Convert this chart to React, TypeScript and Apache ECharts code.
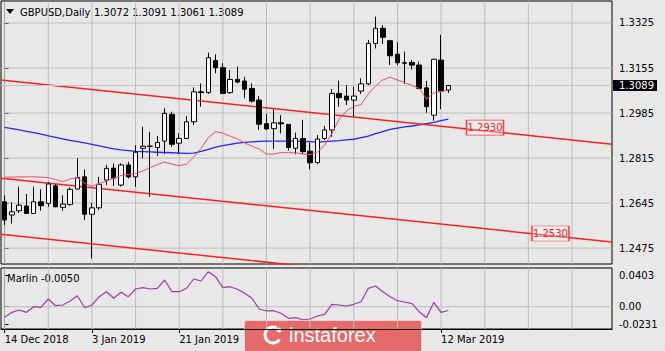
import React, { useEffect, useRef } from "react";
import * as echarts from "echarts";

const dates = [
  "14 Dec 2018", "17 Dec 2018", "18 Dec 2018", "19 Dec 2018", "20 Dec 2018", "21 Dec 2018", "24 Dec 2018",
  "26 Dec 2018", "27 Dec 2018", "28 Dec 2018", "31 Dec 2018", "2 Jan 2019", "3 Jan 2019", "4 Jan 2019",
  "7 Jan 2019", "8 Jan 2019", "9 Jan 2019", "10 Jan 2019", "11 Jan 2019", "14 Jan 2019", "15 Jan 2019",
  "16 Jan 2019", "17 Jan 2019", "18 Jan 2019", "21 Jan 2019", "22 Jan 2019", "23 Jan 2019", "24 Jan 2019",
  "25 Jan 2019", "28 Jan 2019", "29 Jan 2019", "30 Jan 2019", "31 Jan 2019", "1 Feb 2019", "4 Feb 2019",
  "5 Feb 2019", "6 Feb 2019", "7 Feb 2019", "8 Feb 2019", "11 Feb 2019", "12 Feb 2019", "13 Feb 2019",
  "14 Feb 2019", "15 Feb 2019", "18 Feb 2019", "19 Feb 2019", "20 Feb 2019", "21 Feb 2019", "22 Feb 2019",
  "25 Feb 2019", "26 Feb 2019", "27 Feb 2019", "28 Feb 2019", "1 Mar 2019", "4 Mar 2019", "5 Mar 2019",
  "6 Mar 2019", "7 Mar 2019", "8 Mar 2019", "11 Mar 2019", "12 Mar 2019", "13 Mar 2019",
];
const emptySlots = 22;

const open = [
  1.2650, 1.2600, 1.2616, 1.2634, 1.2606, 1.2650, 1.2644, 1.2710, 1.2629, 1.2640,
  1.2698, 1.2744, 1.2603, 1.2627, 1.2732, 1.2777, 1.2713, 1.2789, 1.2744, 1.2852,
  1.2860, 1.2855, 1.2879, 1.2980, 1.2871, 1.2889, 1.2952, 1.3065, 1.3062, 1.3183,
  1.3156, 1.3062, 1.3112, 1.3106, 1.3078, 1.3034, 1.2945, 1.2926, 1.2948, 1.2942,
  1.2852, 1.2889, 1.2841, 1.2798, 1.2889, 1.2921, 1.3059, 1.3049, 1.3034, 1.3068,
  1.3095, 1.3248, 1.3305, 1.3258, 1.3207, 1.3175, 1.3176, 1.3166, 1.3080, 1.2977,
  1.3185, 1.3072,
];
const close = [
  1.2581, 1.2612, 1.2637, 1.2606, 1.2650, 1.2635, 1.2717, 1.2631, 1.2641, 1.2697,
  1.2741, 1.2603, 1.2627, 1.2716, 1.2776, 1.2739, 1.2789, 1.2744, 1.2837, 1.2860,
  1.2859, 1.2874, 1.2984, 1.2867, 1.2889, 1.2952, 1.3065, 1.3062, 1.3194, 1.3156,
  1.3059, 1.3112, 1.3102, 1.3075, 1.3030, 1.2943, 1.2925, 1.2948, 1.2944, 1.2855,
  1.2889, 1.2839, 1.2797, 1.2887, 1.2921, 1.3059, 1.3043, 1.3034, 1.3049, 1.3095,
  1.3248, 1.3305, 1.3271, 1.3201, 1.3175, 1.3173, 1.3166, 1.3078, 1.3009, 1.3188,
  1.3068, 1.3089,
];
const low = [
  1.2562, 1.2568, 1.2608, 1.2605, 1.2604, 1.2616, 1.2631, 1.2629, 1.2616, 1.2635,
  1.2697, 1.2581, 1.2436, 1.2618, 1.2713, 1.2710, 1.2707, 1.2738, 1.2707, 1.2814,
  1.2669, 1.2823, 1.2830, 1.2858, 1.2833, 1.2887, 1.2940, 1.3009, 1.3057, 1.3135,
  1.3057, 1.3057, 1.3097, 1.3041, 1.3024, 1.2921, 1.2921, 1.2849, 1.2908, 1.2843,
  1.2830, 1.2830, 1.2772, 1.2792, 1.2883, 1.2895, 1.3009, 1.3015, 1.2971, 1.3057,
  1.3091, 1.3229, 1.3246, 1.3166, 1.3166, 1.3095, 1.3150, 1.3075, 1.2986, 1.2956,
  1.3000, 1.3061,
];
const high = [
  1.2675, 1.2648, 1.2707, 1.2679, 1.2707, 1.2697, 1.2725, 1.2717, 1.2675, 1.2704,
  1.2814, 1.2772, 1.2646, 1.2744, 1.2789, 1.2795, 1.2795, 1.2801, 1.2864, 1.2933,
  1.2914, 1.2898, 1.3003, 1.2990, 1.2908, 1.2974, 1.3082, 1.3097, 1.3213, 1.3207,
  1.3173, 1.3147, 1.3160, 1.3122, 1.3097, 1.3049, 1.2981, 1.2999, 1.2977, 1.2943,
  1.2911, 1.2959, 1.2874, 1.2902, 1.2936, 1.3075, 1.3107, 1.3091, 1.3084, 1.3116,
  1.3261, 1.3349, 1.3317, 1.3261, 1.3252, 1.3217, 1.3185, 1.3179, 1.3107, 1.3190,
  1.3280, 1.3091,
];

const maFast = [
  1.2743, 1.2743, 1.2744, 1.2744, 1.2744, 1.2743, 1.2741, 1.2734, 1.2726, 1.2736,
  1.2741, 1.2719, 1.2709, 1.2719, 1.2728, 1.2739, 1.2749, 1.2753, 1.2756, 1.2766,
  1.2779, 1.2790, 1.2800, 1.2792, 1.2786, 1.2792, 1.2819, 1.2851, 1.2892, 1.2915,
  1.2909, 1.2898, 1.2887, 1.2872, 1.2860, 1.2849, 1.2830, 1.2830, 1.2836, 1.2835,
  1.2835, 1.2830, 1.2828, 1.2838, 1.2864, 1.2908, 1.2962, 1.2993, 1.3010, 1.3017,
  1.3057, 1.3087, 1.3110, 1.3120, 1.3110, 1.3100, 1.3089, 1.3078, 1.3038, 1.3061,
  1.3066, 1.3072,
];
const maSlow = [
  1.2931, 1.2926, 1.2921, 1.2916, 1.2911, 1.2905, 1.2899, 1.2893, 1.2887, 1.2882,
  1.2877, 1.2872, 1.2867, 1.2861, 1.2855, 1.2850, 1.2846, 1.2843, 1.2840, 1.2839,
  1.2838, 1.2837, 1.2836, 1.2835, 1.2834, 1.2833, 1.2834, 1.2840, 1.2848, 1.2856,
  1.2862, 1.2867, 1.2871, 1.2874, 1.2876, 1.2878, 1.2879, 1.2879, 1.2879, 1.2879,
  1.2879, 1.2878, 1.2877, 1.2875, 1.2877, 1.2879, 1.2881, 1.2884, 1.2886, 1.2892,
  1.2898, 1.2907, 1.2915, 1.2923, 1.2928, 1.2933, 1.2936, 1.2940, 1.2945, 1.2950,
  1.2956, 1.2962,
];
const marlin = [
  -0.0138, -0.0073, -0.0043, -0.0073, 0.0000, -0.0009, 0.0100, 0.0013, 0.0022, 0.0074,
  0.0143, -0.0013, 0.0022, 0.0130, 0.0195, 0.0109, 0.0187, 0.0130, 0.0230, 0.0247,
  0.0230, 0.0239, 0.0347, 0.0195, 0.0195, 0.0239, 0.0360, 0.0334, 0.0455, 0.0390,
  0.0247, 0.0260, 0.0226, 0.0174, 0.0109, -0.0030, -0.0056, -0.0052, -0.0086, -0.0151,
  -0.0143, -0.0170, -0.0160, -0.0121, -0.0099, 0.0030, 0.0022, 0.0009, 0.0031, 0.0065,
  0.0239, 0.0269, 0.0195, 0.0130, 0.0078, 0.0061, 0.0039, -0.0065, -0.0143, 0.0057,
  -0.0073, -0.0050,
];

// channel lines: price at left edge and right edge of the plot
const channelStart = [1.3110, 1.2739, 1.2527];
const channelEnd = [1.2867, 1.2498, 1.2285];
const channelLabels = ["1.2930", "1.2530"];

const priceTicks = [1.2475, 1.2645, 1.2815, 1.2985, 1.3155, 1.3325];
const marlinTicks = [-0.0231, 0, 0.0403];
// labels that are visible (the others are hidden under the logo in the reference)
const xTickLabels = ["14 Dec 2018", "3 Jan 2019", "21 Jan 2019", "12 Mar 2019"];
const headerValues = ["1.3072", "1.3091", "1.3061", "1.3089"];
const lastPrice = 1.3089;
const marlinLast = "-0.0050";
const gridStep = 6; // vertical grid line every 6 bars

const PRICE_MIN = 1.2415;
const PRICE_MAX = 1.3408;
const MARLIN_MIN = -0.029;
const MARLIN_MAX = 0.0503;

const FONT = "DejaVu Sans";

export default function App() {
  const ref = useRef<HTMLDivElement>(null);
  useEffect(() => {
    if (!ref.current) return;
    const chart = echarts.init(ref.current, undefined, { renderer: "svg" });
    const cats = dates.concat(Array.from({ length: emptySlots }, (_, i) => "slot" + i));
    const N = cats.length;
    const labelInterval = (_i: number, name: string) => xTickLabels.indexOf(name) >= 0;
    const candles = open.map((o, i) => [o, close[i], low[i], high[i]]);
    const labelPos = [66.04, 75.04];

    const gl = (xi: number, yi: number, data: number[][]) => ({
      type: "line", xAxisIndex: xi, yAxisIndex: yi, data, symbol: "none",
      lineStyle: { color: "#bdbdbd", width: 1 }, z: 1, silent: true,
    });
    const gridSeries: any[] = [];
    priceTicks.forEach((v) => gridSeries.push(gl(1, 0, [[-0.5, v], [N - 0.5, v]])));
    gridSeries.push(gl(3, 1, [[-0.5, 0], [N - 0.5, 0]]));
    for (let i = 0; i < N; i += gridStep) {
      gridSeries.push(gl(1, 0, [[i, PRICE_MIN], [i, PRICE_MAX]]));
      gridSeries.push(gl(3, 1, [[i, MARLIN_MIN], [i, MARLIN_MAX]]));
    }

    const channelSeries = channelStart.map((s, k) => ({
      type: "line",
      xAxisIndex: 1,
      yAxisIndex: 0,
      data: [[-0.5, s], [N - 0.5, channelEnd[k]]],
      symbol: "none",
      lineStyle: { color: "#ff2020", width: 1.5 },
      z: 4,
      silent: true,
      markPoint: k < 2 ? {
        symbol: "rect",
        symbolSize: [37, 15],
        itemStyle: { color: "rgba(255,255,255,0.3)", borderColor: "#ff3c3c", borderWidth: 1 },
        label: { show: true, position: "inside", formatter: channelLabels[k], color: "#ff2020", fontSize: 10, fontFamily: FONT },
        data: [{ coord: [labelPos[k], Number(channelLabels[k])] }],
        silent: true,
      } : undefined,
    }));

    const option: any = {
      animation: false,
      backgroundColor: "#e8e8e8",
      textStyle: { fontFamily: FONT },
      grid: [
        { left: 1, top: 1, width: 611, height: 263, show: true, borderColor: "#000", borderWidth: 1 },
        { left: 1, top: 268, width: 611, height: 61, show: true, borderColor: "#000", borderWidth: 1 },
      ],
      xAxis: [
        {
          type: "category", gridIndex: 0, data: cats, boundaryGap: true,
          axisLine: { show: false, onZero: false }, axisTick: { show: false }, axisLabel: { show: false },
          splitLine: { show: false },
        },
        { type: "value", gridIndex: 0, min: -0.5, max: N - 0.5, show: false, splitLine: { show: false } },
        {
          type: "category", gridIndex: 1, data: cats, boundaryGap: true,
          axisLine: { show: true, onZero: false, lineStyle: { color: "#000" } },
          axisTick: { show: true, alignWithLabel: true, interval: labelInterval, length: 4, lineStyle: { color: "#000" } },
          axisLabel: { show: true, interval: labelInterval, align: "left", margin: 5, fontSize: 10, color: "#000", fontFamily: FONT },
          splitLine: { show: false },
        },
        { type: "value", gridIndex: 1, min: -0.5, max: N - 0.5, show: false, splitLine: { show: false } },
      ],
      yAxis: [
        {
          type: "value", gridIndex: 0, position: "right", min: PRICE_MIN, max: PRICE_MAX,
          axisLine: { show: true, lineStyle: { color: "#000" } },
          axisTick: { show: true, customValues: priceTicks, length: 4, lineStyle: { color: "#000" } },
          axisLabel: { show: true, customValues: priceTicks, formatter: (v: number) => v.toFixed(4), margin: 7, fontSize: 10, color: "#000", fontFamily: FONT },
          splitLine: { show: false },
        },
        {
          type: "value", gridIndex: 1, position: "right", min: MARLIN_MIN, max: MARLIN_MAX,
          axisLine: { show: true, lineStyle: { color: "#000" } },
          axisTick: { show: true, customValues: marlinTicks, length: 4, lineStyle: { color: "#000" } },
          axisLabel: { show: true, customValues: marlinTicks, formatter: (v: number) => (v === 0 ? "0.00" : v.toFixed(4)), margin: 7, fontSize: 10, color: "#000", fontFamily: FONT },
          splitLine: { show: false },
        },
      ],
      series: [
        ...gridSeries,
        {
          type: "line", xAxisIndex: 0, yAxisIndex: 0, data: maSlow, symbol: "none",
          lineStyle: { color: "#2626ff", width: 1.3 }, z: 3, silent: true,
        },
        {
          type: "candlestick", xAxisIndex: 0, yAxisIndex: 0, data: candles, barWidth: 5, z: 5,
          itemStyle: { color: "#ffffff", color0: "#000000", borderColor: "#000000", borderColor0: "#000000", borderWidth: 1 },
          markLine: {
            silent: true, symbol: ["none", "none"], precision: 4,
            lineStyle: { type: "solid", color: "#c2c2c2", width: 1 },
            label: {
              show: true, position: "end", distance: 1, formatter: lastPrice.toFixed(4),
              backgroundColor: "#000", color: "#fff", padding: [1, 3, 0, 6], fontSize: 10, fontFamily: FONT,
            },
            data: [{ yAxis: lastPrice }],
          },
        },
        {
          type: "line", xAxisIndex: 0, yAxisIndex: 0, data: maFast, symbol: "none",
          lineStyle: { color: "#e8506c", width: 1 }, z: 6, silent: true,
        },
        ...channelSeries,
        {
          type: "line", xAxisIndex: 2, yAxisIndex: 1, data: marlin, symbol: "none",
          lineStyle: { color: "#a23aa6", width: 1.2 }, z: 4, silent: true,
        },
      ],
      graphic: [
        { type: "polygon", shape: { points: [[6, 9], [14, 9], [10, 14]] }, style: { fill: "#000" } },
        { type: "text", x: 20, y: 12, style: { text: "GBPUSD,Daily", font: `10px "${FONT}"`, fill: "#000", verticalAlign: "middle" } },
        { type: "text", x: 94, y: 12, style: { text: headerValues.join(" "), font: `10px "${FONT}"`, fill: "#000", verticalAlign: "middle" } },
        { type: "text", x: 7, y: 278, style: { text: "Marlin " + marlinLast, font: `10px "${FONT}"`, fill: "#000", verticalAlign: "middle" } },
        {
          type: "group", z: 100,
          children: [
            { type: "rect", shape: { x: 244.5, y: 320.5, width: 177, height: 40, r: 2 }, style: { fill: "#e56a6a", stroke: "#f6d0d0", lineWidth: 1 } },
            { type: "arc", shape: { cx: 273, cy: 335, r: 8, startAngle: 0.6, endAngle: 5.2 }, style: { stroke: "#fff", lineWidth: 3, fill: "none" } },
            { type: "circle", shape: { cx: 279, cy: 330, r: 2.5 }, style: { fill: "#fff" } },
            { type: "text", x: 289, y: 335, style: { text: "instaforex", font: '20px "Liberation Sans"', fill: "#fff", verticalAlign: "middle" } },
          ],
        },
      ],
    };
    chart.setOption(option);
    return () => chart.dispose();
  }, []);
  return <div ref={ref} style={{ position: "fixed", left: 0, top: 0, width: 665, height: 351 }} />;
}
